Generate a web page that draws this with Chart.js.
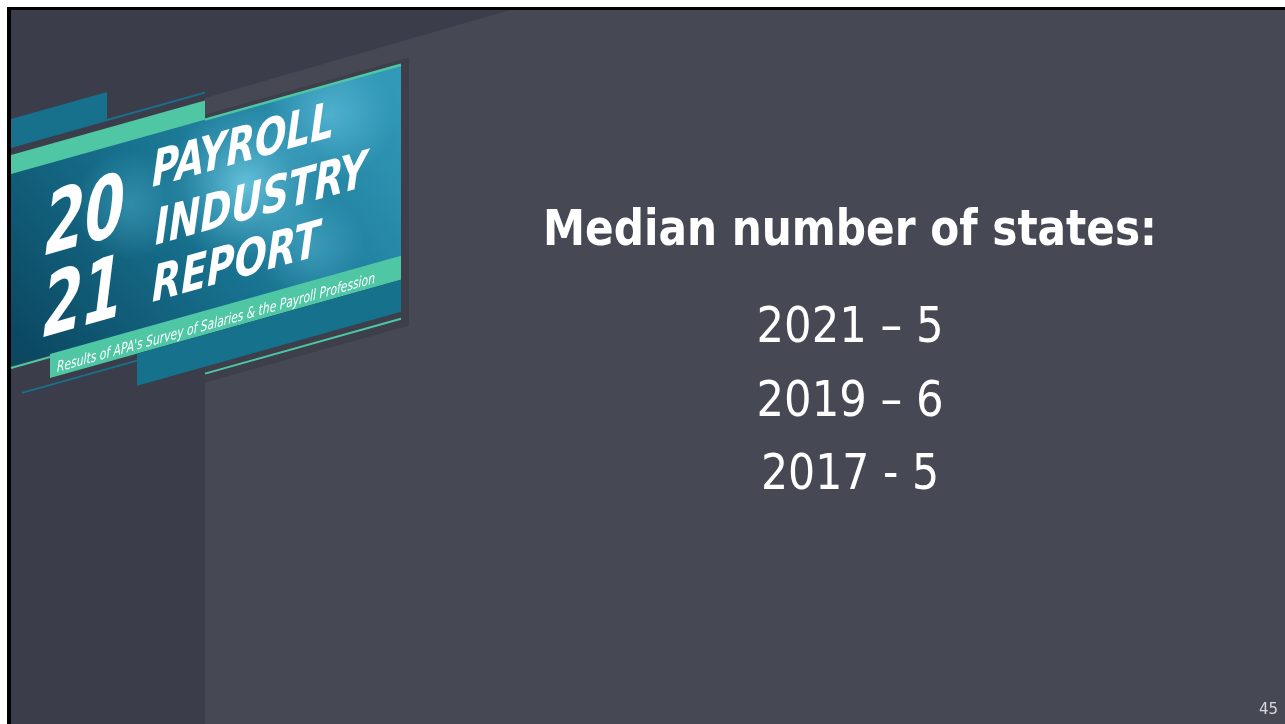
<!DOCTYPE html>
<html>
<head>
<meta charset="utf-8">
<title>Median number of states</title>
<script src="https://cdn.jsdelivr.net/npm/chart.js@4.4.0/dist/chart.umd.min.js"></script>
<style>
  html, body { margin: 0; padding: 0; background: #fff; overflow: hidden; }
  #wrap { position: absolute; left: 0; top: 0; width: 1285px; height: 724px; }
</style>
</head>
<body>
<div id="wrap"><canvas id="slideChart" width="1285" height="724"></canvas></div>
<script>
// slide data
const titleText = 'Median number of states:';
const years = ['2021', '2019', '2017'];
const medianStates = [5, 6, 5];
const dashes = ['\u2013', '\u2013', '-'];
const pageNumber = '45';

const logoLines = ['PAYROLL', 'INDUSTRY', 'REPORT'];
const logoYear = ['20', '21'];
const logoSub = "Results of APA's Survey of Salaries & the Payroll Profession";

const SLANT = 0.28;
const GREEN = '#4fc6a4';
const BLUE = '#17708c';

// parallelogram whose top/bottom edges follow y = c - SLANT * x
function band(ctx, x1, x2, top, bottom, fill) {
  ctx.beginPath();
  ctx.moveTo(x1, top - SLANT * x1);
  ctx.lineTo(x2, top - SLANT * x2);
  ctx.lineTo(x2, bottom - SLANT * x2);
  ctx.lineTo(x1, bottom - SLANT * x1);
  ctx.closePath();
  ctx.fillStyle = fill;
  ctx.fill();
}

function slantLine(ctx, x1, x2, c, color, w) {
  ctx.beginPath();
  ctx.moveTo(x1, c - SLANT * x1);
  ctx.lineTo(x2, c - SLANT * x2);
  ctx.strokeStyle = color;
  ctx.lineWidth = w;
  ctx.stroke();
}

// text with baseline following the slant, starting at (x, y)
function slantText(ctx, str, x, y, font, maxW) {
  ctx.save();
  ctx.transform(1, -SLANT, 0, 1, 0, 0);
  ctx.font = font;
  ctx.fillStyle = '#ffffff';
  ctx.textAlign = 'left';
  ctx.textBaseline = 'alphabetic';
  ctx.fillText(str, x, y + SLANT * x, maxW);
  ctx.restore();
}

function drawLogo(ctx) {
  // shadow behind the logo (only visible on the lighter wall)
  band(ctx, 205, 409, 172, 440, '#3d3f4b');

  band(ctx, 11, 107, 122, 151, BLUE);
  slantLine(ctx, 107, 205, 150, BLUE, 2);
  band(ctx, 11, 205, 158, 180, GREEN);

  // photo part
  ctx.save();
  ctx.beginPath();
  ctx.moveTo(11, 177 - SLANT * 11);
  ctx.lineTo(401, 177 - SLANT * 401);
  ctx.lineTo(401, 369 - SLANT * 401);
  ctx.lineTo(11, 369 - SLANT * 11);
  ctx.closePath();
  ctx.clip();
  let g = ctx.createLinearGradient(40, 370, 390, 80);
  g.addColorStop(0, '#0b4862');
  g.addColorStop(0.45, '#17718e');
  g.addColorStop(1, '#3299b9');
  ctx.fillStyle = g;
  ctx.fillRect(0, 0, 420, 420);
  const spots = [[245, 185, 80, 'rgba(130,222,246,0.7)'], [330, 115, 65, 'rgba(110,205,232,0.55)'],
                 [130, 205, 55, 'rgba(90,190,220,0.4)'], [310, 245, 55, 'rgba(100,200,228,0.4)']];
  spots.forEach(s => {
    const r = ctx.createRadialGradient(s[0], s[1], 0, s[0], s[1], s[2]);
    r.addColorStop(0, s[3]);
    r.addColorStop(1, 'rgba(100,200,230,0)');
    ctx.fillStyle = r;
    ctx.fillRect(0, 0, 420, 420);
  });
  ctx.restore();

  slantLine(ctx, 205, 401, 177, GREEN, 2.5);
  slantLine(ctx, 11, 50, 371, GREEN, 2);
  band(ctx, 50, 401, 368, 392, GREEN);
  band(ctx, 137, 401, 392, 424, '#16718d');
  slantLine(ctx, 22, 137, 399, BLUE, 2);
  slantLine(ctx, 205, 401, 431, GREEN, 2);

  const big = "italic bold 86px 'DejaVu Sans Condensed', 'DejaVu Sans', sans-serif";
  slantText(ctx, logoYear[0], 45, 255, big, 80);
  slantText(ctx, logoYear[1], 43, 337, big, 80);
  const mid = "italic bold 50px 'DejaVu Sans Condensed', 'DejaVu Sans', sans-serif";
  slantText(ctx, logoLines[0], 152, 187, mid, 182);
  slantText(ctx, logoLines[1], 155, 245, mid, 212);
  slantText(ctx, logoLines[2], 152, 302, mid, 168);
  slantText(ctx, logoSub, 57, 372, "italic 15px 'DejaVu Sans Condensed', 'DejaVu Sans', sans-serif", 318);
}

const slideBackground = {
  id: 'slideBackground',
  beforeDraw(chart) {
    const ctx = chart.ctx;
    ctx.save();
    ctx.fillStyle = '#ffffff';
    ctx.fillRect(0, 0, chart.width, chart.height);
    ctx.fillStyle = '#000000';
    ctx.fillRect(7, 7, chart.width - 7, chart.height - 7);
    ctx.fillStyle = '#464853';
    ctx.fillRect(11, 10, chart.width - 11, chart.height - 10);
    // darker wall and ceiling
    ctx.beginPath();
    ctx.moveTo(11, 10);
    ctx.lineTo(510, 10);
    ctx.lineTo(205, 98);
    ctx.lineTo(205, chart.height);
    ctx.lineTo(11, chart.height);
    ctx.closePath();
    ctx.fillStyle = '#3b3d4a';
    ctx.fill();
    drawLogo(ctx);
    ctx.restore();
  }
};

const slideText = {
  id: 'slideText',
  afterDatasetsDraw(chart) {
    const ctx = chart.ctx;
    const yScale = chart.scales.y;
    const cx = 850;
    ctx.save();
    ctx.fillStyle = '#ffffff';
    ctx.textAlign = 'center';
    ctx.textBaseline = 'alphabetic';
    ctx.font = "bold 49px 'DejaVu Sans Condensed', 'DejaVu Sans', sans-serif";
    ctx.fillText(titleText, cx, 245, 614);
    ctx.font = "49px 'DejaVu Sans Condensed', 'DejaVu Sans', sans-serif";
    years.forEach((yr, i) => {
      const y = yScale.getPixelForValue(i);
      const label = yr + ' ' + dashes[i] + ' ' + medianStates[i];
      ctx.fillText(label, cx, y + 18, i === 2 ? 178 : 187);
    });
    ctx.font = "15px 'DejaVu Sans', sans-serif";
    ctx.fillStyle = '#d8d8de';
    ctx.textAlign = 'right';
    ctx.fillText(pageNumber, 1278, 714);
    ctx.restore();
  }
};

new Chart(document.getElementById('slideChart'), {
  type: 'bar',
  data: {
    labels: years,
    datasets: [{
      label: 'Median number of states',
      data: medianStates,
      backgroundColor: 'rgba(0,0,0,0)',
      borderWidth: 0
    }]
  },
  options: {
    indexAxis: 'y',
    responsive: false,
    animation: false,
    devicePixelRatio: 1,
    layout: { padding: { top: 287, bottom: 216, left: 600, right: 400 } },
    scales: {
      x: { display: false, min: 0, max: 10 },
      y: { display: false }
    },
    plugins: {
      legend: { display: false },
      tooltip: { enabled: false }
    }
  },
  plugins: [slideBackground, slideText]
});
</script>
</body>
</html>
